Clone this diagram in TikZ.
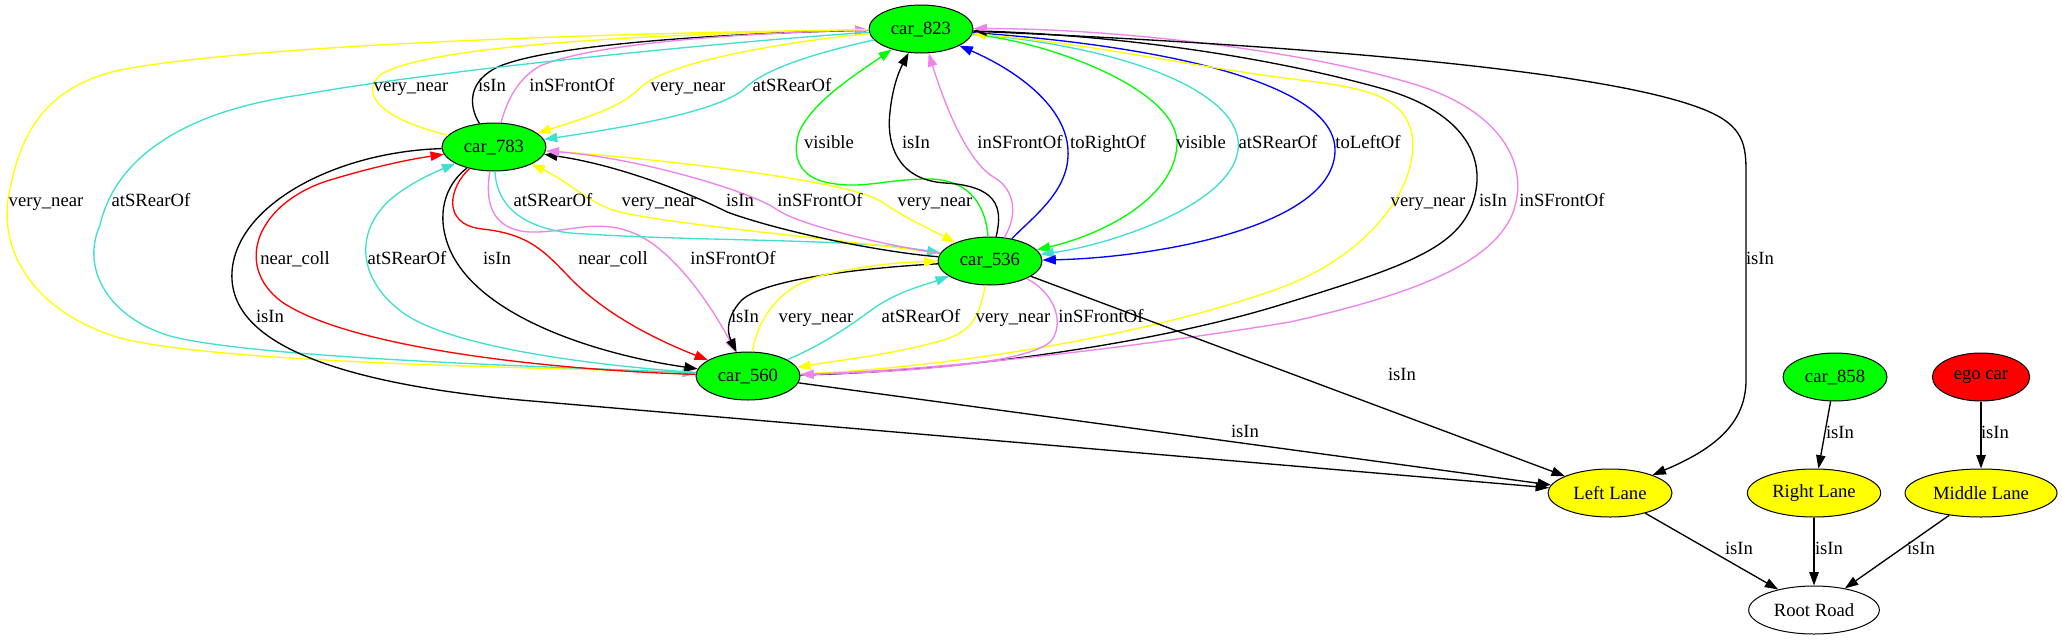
\documentclass[tikz,border=0pt]{standalone}
\usepackage{fontspec}
\setmainfont{Liberation Serif}
\usetikzlibrary{shapes.geometric,arrows.meta}
\definecolor{cyel}{RGB}{255,255,0}
\definecolor{ctq}{RGB}{64,224,208}
\definecolor{cvio}{RGB}{238,130,238}
\definecolor{cgrn}{RGB}{0,255,0}
\definecolor{cblu}{RGB}{0,0,255}
\definecolor{cred}{RGB}{255,0,0}
\begin{document}
\begin{tikzpicture}[x=0.75pt,y=-0.75pt,
  nd/.style={ellipse,draw=black,line width=0.75pt,inner sep=0pt,minimum height=36pt,font=\fontsize{14}{16}\selectfont},
  carnd/.style={nd,fill=cgrn,minimum width=78pt},
  lane/.style={nd,fill=cyel},
  ed/.style={line width=1pt,-{Triangle[length=10pt,width=7pt]}},
  lab/.style={font=\fontsize{14}{16}\selectfont,inner sep=0pt,text height=10pt,text depth=3pt}]
\useasboundingbox[fill=white] (0,0) rectangle (2062,639);

% nodes
\node[carnd] (n823) at (921,29) {car\_823};
\node[carnd] (n783) at (494,147) {car\_783};
\node[carnd] (n536) at (990,261) {car\_536};
\node[carnd] (n560) at (748,376) {car\_560};
\node[carnd] (n858) at (1835,377) {car\_858};
\node[nd,fill=cred,minimum width=73pt] (ego) at (1981,377) {ego car};
\node[lane,minimum width=93pt] (LL) at (1610,493) {Left Lane};
\node[lane,minimum width=100pt] (RL) at (1814,493) {Right Lane};
\node[lane,minimum width=114pt] (ML) at (1981,493) {Middle Lane};
\node[nd,fill=white,minimum width=98pt] (RR) at (1814,610) {Root Road};

% car_783 -> car_823
\draw[ed,cyel] (n783) .. controls (380,118) and (360,95) .. (380,75) .. controls (430,42) and (700,33) .. (n823);
\draw[ed] (n783) .. controls (468,105) and (468,80) .. (500,66) .. controls (560,42) and (750,33) .. (n823);
\draw[ed,cvio] (n783) .. controls (506,105) and (515,80) .. (540,66) .. controls (600,40) and (780,32) .. (n823);
% car_823 -> car_783
\draw[ed,cyel] (n823) .. controls (800,40) and (668,60) .. (640,88) .. controls (620,108) and (585,118) .. (n783);
\draw[ed,ctq] (n823) .. controls (830,50) and (770,65) .. (745,88) .. controls (720,112) and (620,128) .. (n783);
% car_823 -> car_560 (far left)
\draw[ed,cyel] (n823) .. controls (600,33) and (250,45) .. (120,70) .. controls (40,88) and (18,140) .. (8,200) .. controls (0,262) and (45,316) .. (120,338) .. controls (230,366) and (600,368) .. (n560);
\draw[ed,ctq] (n823) .. controls (750,40) and (450,68) .. (300,95) .. controls (180,112) and (115,160) .. (100,225) .. controls (80,270) and (110,318) .. (170,336) .. controls (260,360) and (600,368) .. (n560);
% car_536 -> car_823
\draw[ed,cgrn] (n536) .. controls (985,200) and (965,178) .. (925,179) .. controls (880,180) and (860,190) .. (825,182) .. controls (795,175) and (792,150) .. (800,130) .. controls (815,100) and (855,75) .. (n823);
\draw[ed] (n536) .. controls (1004,205) and (995,186) .. (945,183) .. controls (898,180) and (886,145) .. (890,112) .. controls (892,92) and (897,75) .. (n823);
\draw[ed,cvio] (n536) .. controls (1018,215) and (1015,190) .. (995,178) .. controls (970,164) and (948,115) .. (n823);
\draw[ed,cblu] (n536) .. controls (1035,215) and (1070,190) .. (1068,150) .. controls (1066,108) and (1020,72) .. (n823);
% car_823 -> car_536
\draw[ed,cgrn] (n823) .. controls (1050,42) and (1180,90) .. (1177,145) .. controls (1174,200) and (1100,235) .. (n536);
\draw[ed,ctq] (n823) .. controls (1150,50) and (1245,100) .. (1238,150) .. controls (1231,205) and (1110,245) .. (n536);
\draw[ed,cblu] (n823) .. controls (1150,45) and (1335,80) .. (1335,150) .. controls (1335,228) and (1150,258) .. (n536);
% car_560 -> car_823 (far right)
\draw[ed,cyel] (n560) .. controls (950,368) and (1150,335) .. (1280,288) .. controls (1370,255) and (1420,185) .. (1412,135) .. controls (1405,98) and (1370,88) .. (1300,80) .. controls (1200,68) and (1100,45) .. (n823);
\draw[ed] (n560) .. controls (950,372) and (1150,345) .. (1280,305) .. controls (1400,268) and (1455,250) .. (1472,205) .. controls (1490,155) and (1460,110) .. (1380,88) .. controls (1250,52) and (1100,35) .. (n823);
\draw[ed,cvio] (n560) .. controls (950,370) and (1150,345) .. (1290,322) .. controls (1410,295) and (1490,265) .. (1512,215) .. controls (1532,165) and (1500,112) .. (1420,86) .. controls (1300,48) and (1100,28) .. (n823);
% to Left Lane
\draw[ed] (n823) .. controls (1300,45) and (1600,70) .. (1700,108) .. controls (1740,123) and (1746,140) .. (1746,170) -- (1746,380) .. controls (1746,425) and (1712,450) .. (LL);
\draw[ed] (n536) -- (LL);
\draw[ed] (n560) -- (LL);
\draw[ed] (n783) .. controls (330,152) and (228,210) .. (232,280) .. controls (236,342) and (330,382) .. (520,400) -- (LL);
% car_783 -> car_560
\draw[ed] (n783) .. controls (445,185) and (435,215) .. (450,250) .. controls (480,318) and (600,355) .. (n560);
\draw[ed,cred] (n783) .. controls (450,186) and (440,224) .. (482,229) .. controls (530,234) and (545,252) .. (572,280) .. controls (610,318) and (662,342) .. (n560);
\draw[ed,cvio] (n783) .. controls (485,200) and (490,230) .. (530,232) .. controls (570,233) and (600,216) .. (640,236) .. controls (682,258) and (718,318) .. (n560);
% car_560 -> car_783
\draw[ed,cred] (n560) .. controls (550,370) and (350,348) .. (282,302) .. controls (232,265) and (258,202) .. (330,180) .. controls (370,168) and (405,160) .. (n783);
\draw[ed,ctq] (n560) .. controls (600,366) and (450,348) .. (402,312) .. controls (352,275) and (356,222) .. (400,192) .. controls (420,178) and (440,170) .. (n783);
% car_783 -> car_536
\draw[ed,ctq] (n783) .. controls (496,197) and (512,226) .. (570,233) .. controls (700,242) and (850,238) .. (n536);
\draw[ed,cyel] (n783) .. controls (650,158) and (850,180) .. (882,202) .. controls (905,218) and (928,228) .. (n536);
% car_536 -> car_783
\draw[ed,cyel] (n536) .. controls (850,240) and (680,226) .. (620,212) .. controls (590,205) and (570,182) .. (n783);
\draw[ed] (n536) .. controls (880,252) and (782,232) .. (727,212) .. controls (700,198) and (625,166) .. (n783);
\draw[ed,cvio] (n536) .. controls (890,246) and (800,226) .. (776,209) .. controls (752,192) and (640,158) .. (n783);
% car_536 -> car_560
\draw[ed] (n536) .. controls (860,268) and (758,280) .. (740,302) .. controls (728,316) and (726,330) .. (n560);
\draw[ed,cyel] (n536) .. controls (980,312) and (975,332) .. (940,341) .. controls (890,355) and (840,360) .. (n560);
\draw[ed,cvio] (n536) .. controls (1050,290) and (1066,318) .. (1052,340) .. controls (1032,364) and (900,372) .. (n560);
% car_560 -> car_536
\draw[ed,cyel] (n560) .. controls (756,330) and (770,290) .. (820,276) .. controls (860,266) and (900,262) .. (n536);
\draw[ed,ctq] (n560) .. controls (820,346) and (850,326) .. (870,311) .. controls (895,292) and (925,285) .. (n536);
% lanes
\draw[ed] (n858) -- (RL);
\draw[ed] (ego) -- (ML);
\draw[ed] (LL) -- (RR);
\draw[ed] (RL) -- (RR);
\draw[ed] (ML) -- (RR);

% labels
\node[lab] (t1) at (411,87) {very\_near};
\node[lab] (t2) at (492,87) {isIn};
\node[lab] (t3) at (572,87) {inSFrontOf};
\node[lab] (t4) at (688,87) {very\_near};
\node[lab] (t5) at (792,87) {atSRearOf};
\node[lab] (t6) at (829,144) {visible};
\node[lab] (t7) at (916,144) {isIn};
\node[lab] (t8) at (1020,144) {inSFrontOf};
\node[lab] (t9) at (1108,144) {toRightOf};
\node[lab] (t10) at (1201,144) {visible};
\node[lab] (t11) at (1278,144) {atSRearOf};
\node[lab] (t12) at (1368,144) {toLeftOf};
\node[lab] (t13) at (46,202) {very\_near};
\node[lab] (t14) at (151,202) {atSRearOf};
\node[lab] (t15) at (553,202) {atSRearOf};
\node[lab] (t16) at (659,202) {very\_near};
\node[lab] (t17) at (740,202) {isIn};
\node[lab] (t18) at (820,202) {inSFrontOf};
\node[lab] (t19) at (935,202) {very\_near};
\node[lab] (t20) at (1428,202) {very\_near};
\node[lab] (t21) at (1493,202) {isIn};
\node[lab] (t22) at (1562,202) {inSFrontOf};
\node[lab] (t23) at (295,260) {near\_coll};
\node[lab] (t24) at (407,260) {atSRearOf};
\node[lab] (t25) at (497,260) {isIn};
\node[lab] (t26) at (613,260) {near\_coll};
\node[lab] (t27) at (733,260) {inSFrontOf};
\node[lab] (t28) at (1760,260) {isIn};
\node[lab] (t29) at (270,318) {isIn};
\node[lab] (t30) at (745,318) {isIn};
\node[lab] (t31) at (816,318) {very\_near};
\node[lab] (t32) at (921,318) {atSRearOf};
\node[lab] (t33) at (1013,318) {very\_near};
\node[lab] (t34) at (1101,318) {inSFrontOf};
\node[lab] (t35) at (1402,376) {isIn};
\node[lab] (t36) at (1245,433) {isIn};
\node[lab] (t37) at (1840,434) {isIn};
\node[lab] (t38) at (1995,434) {isIn};
\node[lab] (t39) at (1739,550) {isIn};
\node[lab] (t40) at (1829,550) {isIn};
\node[lab] (t41) at (1921,550) {isIn};
\end{tikzpicture}
\end{document}
